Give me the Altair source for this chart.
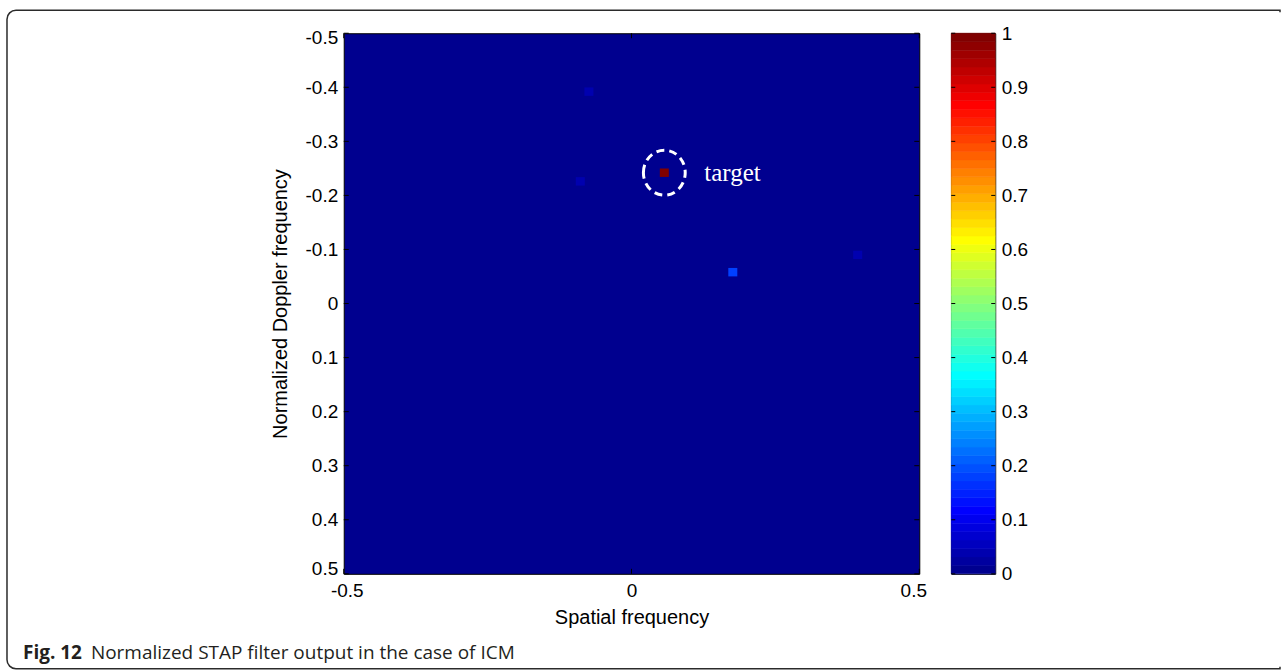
import altair as alt
import numpy as np
import pandas as pd

# Cells of the STAP filter output that stand out from the floor
# (cell centres in normalised spatial / Doppler frequency, normalised amplitude)
peak_spatial = [-0.074, -0.089, 0.057, 0.176, 0.393]
peak_doppler = [-0.392, -0.226, -0.242, -0.058, -0.090]
peak_value = [0.04, 0.035, 1.0, 0.18, 0.04]

cell = 1 / 64  # grid resolution in both frequencies

x_ticks = [-0.5, 0, 0.5]
y_ticks = [-0.5, -0.4, -0.3, -0.2, -0.1, 0, 0.1, 0.2, 0.3, 0.4, 0.5]
cbar_ticks = [0, 0.1, 0.2, 0.3, 0.4, 0.5, 0.6, 0.7, 0.8, 0.9, 1]

x_title = "Spatial frequency"
y_title = "Normalized Doppler frequency"
target_label = "target"
caption_bold = "Fig. 12"
caption_text = "Normalized STAP filter output in the case of ICM"

W, H = 576, 541
CB_W = 44


def jet(m=64):
    """MATLAB-style jet colormap with m entries, as hex strings."""
    n = int(np.ceil(m / 4))
    u = np.concatenate([np.arange(1, n + 1) / n, np.ones(n - 1), np.arange(n, 0, -1) / n])
    g = int(np.ceil(n / 2)) - (1 if m % 4 == 1 else 0) + np.arange(1, len(u) + 1)
    r = g + n
    b = g - n
    g = g[g <= m]
    r = r[r <= m]
    b = b[b >= 1]
    J = np.zeros((m, 3))
    J[r - 1, 0] = u[: len(r)]
    J[g - 1, 1] = u[: len(g)]
    J[b - 1, 2] = u[len(u) - len(b):]
    return ["#%02x%02x%02x" % tuple(int(round(c * 255)) for c in row) for row in J]


jet_colors = jet(64)
jet_scale = alt.Scale(type="quantize", domain=[0, 1], range=jet_colors)

num_label = ("datum.value == 0 ? '0' : (datum.value < 0 ? '-' : '') + "
             "format(abs(datum.value), '.1~f')")

# End labels sit slightly inside the box, as in MATLAB
y_label_shift = {
    "condition": [
        {"test": "datum.value == -0.5", "value": 4},
        {"test": "datum.value == 0.5", "value": -5},
    ],
    "value": 0,
}
x_label_shift = {
    "condition": [
        {"test": "datum.value == -0.5", "value": 3},
        {"test": "datum.value == 0.5", "value": -6},
    ],
    "value": 0,
}

peaks = pd.DataFrame({"fs": peak_spatial, "fd": peak_doppler, "v": peak_value})
target = peaks[peaks["v"] == peaks["v"].max()]

x_scale = alt.Scale(domain=[-0.5, 0.5], nice=False, zero=False)
y_scale = alt.Scale(domain=[-0.5, 0.5], nice=False, zero=False, reverse=True)

axis_style = dict(
    ticks=False, domain=False, grid=False,
    labelFont="Liberation Sans", labelFontSize=19, labelColor="black",
    titleFont="Liberation Sans", titleFontSize=20, titleFontWeight="normal",
    titleColor="black", labelFlush=False, labelOverlap=False,
)

# Filter-output cells
cells = alt.Chart(peaks).transform_calculate(
    x1=f"datum.fs - {cell / 2}", x2=f"datum.fs + {cell / 2}",
    y1=f"datum.fd - {cell / 2}", y2=f"datum.fd + {cell / 2}",
).mark_rect(strokeWidth=0).encode(
    x=alt.X("x1:Q", scale=x_scale,
            axis=alt.Axis(values=x_ticks, labelExpr=num_label, labelPadding=8,
                          labelOffset=x_label_shift,
                          title=x_title, titlePadding=7, **axis_style)),
    x2="x2:Q",
    y=alt.Y("y1:Q", scale=y_scale,
            axis=alt.Axis(values=y_ticks, labelExpr=num_label, labelPadding=6,
                          labelOffset=y_label_shift,
                          title=y_title, titlePadding=15, **axis_style)),
    y2="y2:Q",
    color=alt.Color("v:Q", scale=jet_scale, legend=None),
)

# Dashed ring and label around the strongest response
ring_path = "M -0.93 0 A 0.93 1 0 1 1 0.93 0 A 0.93 1 0 1 1 -0.93 0 Z"
ring = alt.Chart(target).mark_point(
    shape=ring_path, size=2025, filled=False, stroke="white",
    strokeWidth=3, strokeDash=[8, 5], opacity=1,
).encode(x=alt.X("fs:Q", scale=x_scale), y=alt.Y("fd:Q", scale=y_scale))

label = alt.Chart(target).mark_text(
    text=target_label, align="left", baseline="alphabetic", dx=40, dy=8,
    font="Liberation Serif", fontSize=25, color="white",
).encode(x=alt.X("fs:Q", scale=x_scale), y=alt.Y("fd:Q", scale=y_scale))

# Inward tick marks on all four sides of the image box
ytick_df = pd.DataFrame({"t": y_ticks})
xtick_df = pd.DataFrame({"t": x_ticks})
ytick_l = alt.Chart(ytick_df).mark_rule(color="black", strokeWidth=1).encode(
    y=alt.Y("t:Q", scale=y_scale), x=alt.value(0), x2=alt.value(5))
ytick_r = alt.Chart(ytick_df).mark_rule(color="black", strokeWidth=1).encode(
    y=alt.Y("t:Q", scale=y_scale), x=alt.value(W - 5), x2=alt.value(W))
xtick_b = alt.Chart(xtick_df).mark_rule(color="black", strokeWidth=1).encode(
    x=alt.X("t:Q", scale=x_scale), y=alt.value(H - 5), y2=alt.value(H))
xtick_t = alt.Chart(xtick_df).mark_rule(color="black", strokeWidth=1).encode(
    x=alt.X("t:Q", scale=x_scale), y=alt.value(0), y2=alt.value(5))

# Rounded figure frame and caption, placed relative to the image box
one = pd.DataFrame({"k": [0]})
frame = alt.Chart(one).mark_rect(
    fill=None, stroke="#2b2b2b", strokeWidth=1.5,
    cornerRadiusTopLeft=9, cornerRadiusBottomLeft=9,
).encode(x=alt.value(-337), x2=alt.value(937), y=alt.value(-23), y2=alt.value(636))
frame_cut = alt.Chart(one).mark_rect(fill="white", strokeWidth=0).encode(
    x=alt.value(935.5), x2=alt.value(938), y=alt.value(-21), y2=alt.value(634))
cap1 = alt.Chart(one).mark_text(
    text=caption_bold, align="left", baseline="alphabetic",
    font="Open Sans", fontSize=19, fontWeight="bold", color="#231f20",
).encode(x=alt.value(-321), y=alt.value(626))
cap2 = alt.Chart(one).mark_text(
    text=caption_text, align="left", baseline="alphabetic",
    font="Open Sans", fontSize=19, color="#231f20",
).encode(x=alt.value(-253), y=alt.value(626))

main = alt.layer(
    cells, ring, label, ytick_l, ytick_r, xtick_b, xtick_t,
    frame, frame_cut, cap1, cap2,
).properties(
    width=W, height=H,
    view=alt.ViewBackground(fill=jet_colors[0], stroke="black", strokeWidth=1),
)

# Colour bar: one band per colormap entry
bands = pd.DataFrame({"k": np.arange(64)})
cbar_y = alt.Scale(domain=[0, 1], nice=False, zero=False)
cbar_rects = alt.Chart(bands).transform_calculate(
    lo="datum.k / 64", hi="(datum.k + 1) / 64", mid="(datum.k + 0.5) / 64",
).mark_rect(strokeWidth=0.6).encode(
    y=alt.Y("lo:Q", scale=cbar_y,
            axis=alt.Axis(orient="right", values=cbar_ticks, labelExpr=num_label,
                          labelPadding=6, title=None, **axis_style)),
    y2="hi:Q",
    x=alt.value(0), x2=alt.value(CB_W),
    color=alt.Color("mid:Q", scale=jet_scale, legend=None),
    stroke=alt.Stroke("mid:Q", scale=jet_scale, legend=None),
)
cb_df = pd.DataFrame({"t": cbar_ticks})
cb_tick_l = alt.Chart(cb_df).mark_rule(color="black", strokeWidth=1).encode(
    y=alt.Y("t:Q", scale=cbar_y), x=alt.value(0), x2=alt.value(4))
cb_tick_r = alt.Chart(cb_df).mark_rule(color="black", strokeWidth=1).encode(
    y=alt.Y("t:Q", scale=cbar_y), x=alt.value(CB_W - 4), x2=alt.value(CB_W))

cbar = alt.layer(cbar_rects, cb_tick_l, cb_tick_r).properties(
    width=CB_W, height=H,
    view=alt.ViewBackground(stroke="black", strokeWidth=1),
)

chart = alt.hconcat(main, cbar, spacing=32, bounds="flush").resolve_scale(
    color="independent", y="independent", x="independent"
).properties(
    padding={"left": 5, "top": 8, "right": 0, "bottom": 0},
    background="white",
)

chart.save("out.html", embed_options={"renderer": "svg", "actions": False})
